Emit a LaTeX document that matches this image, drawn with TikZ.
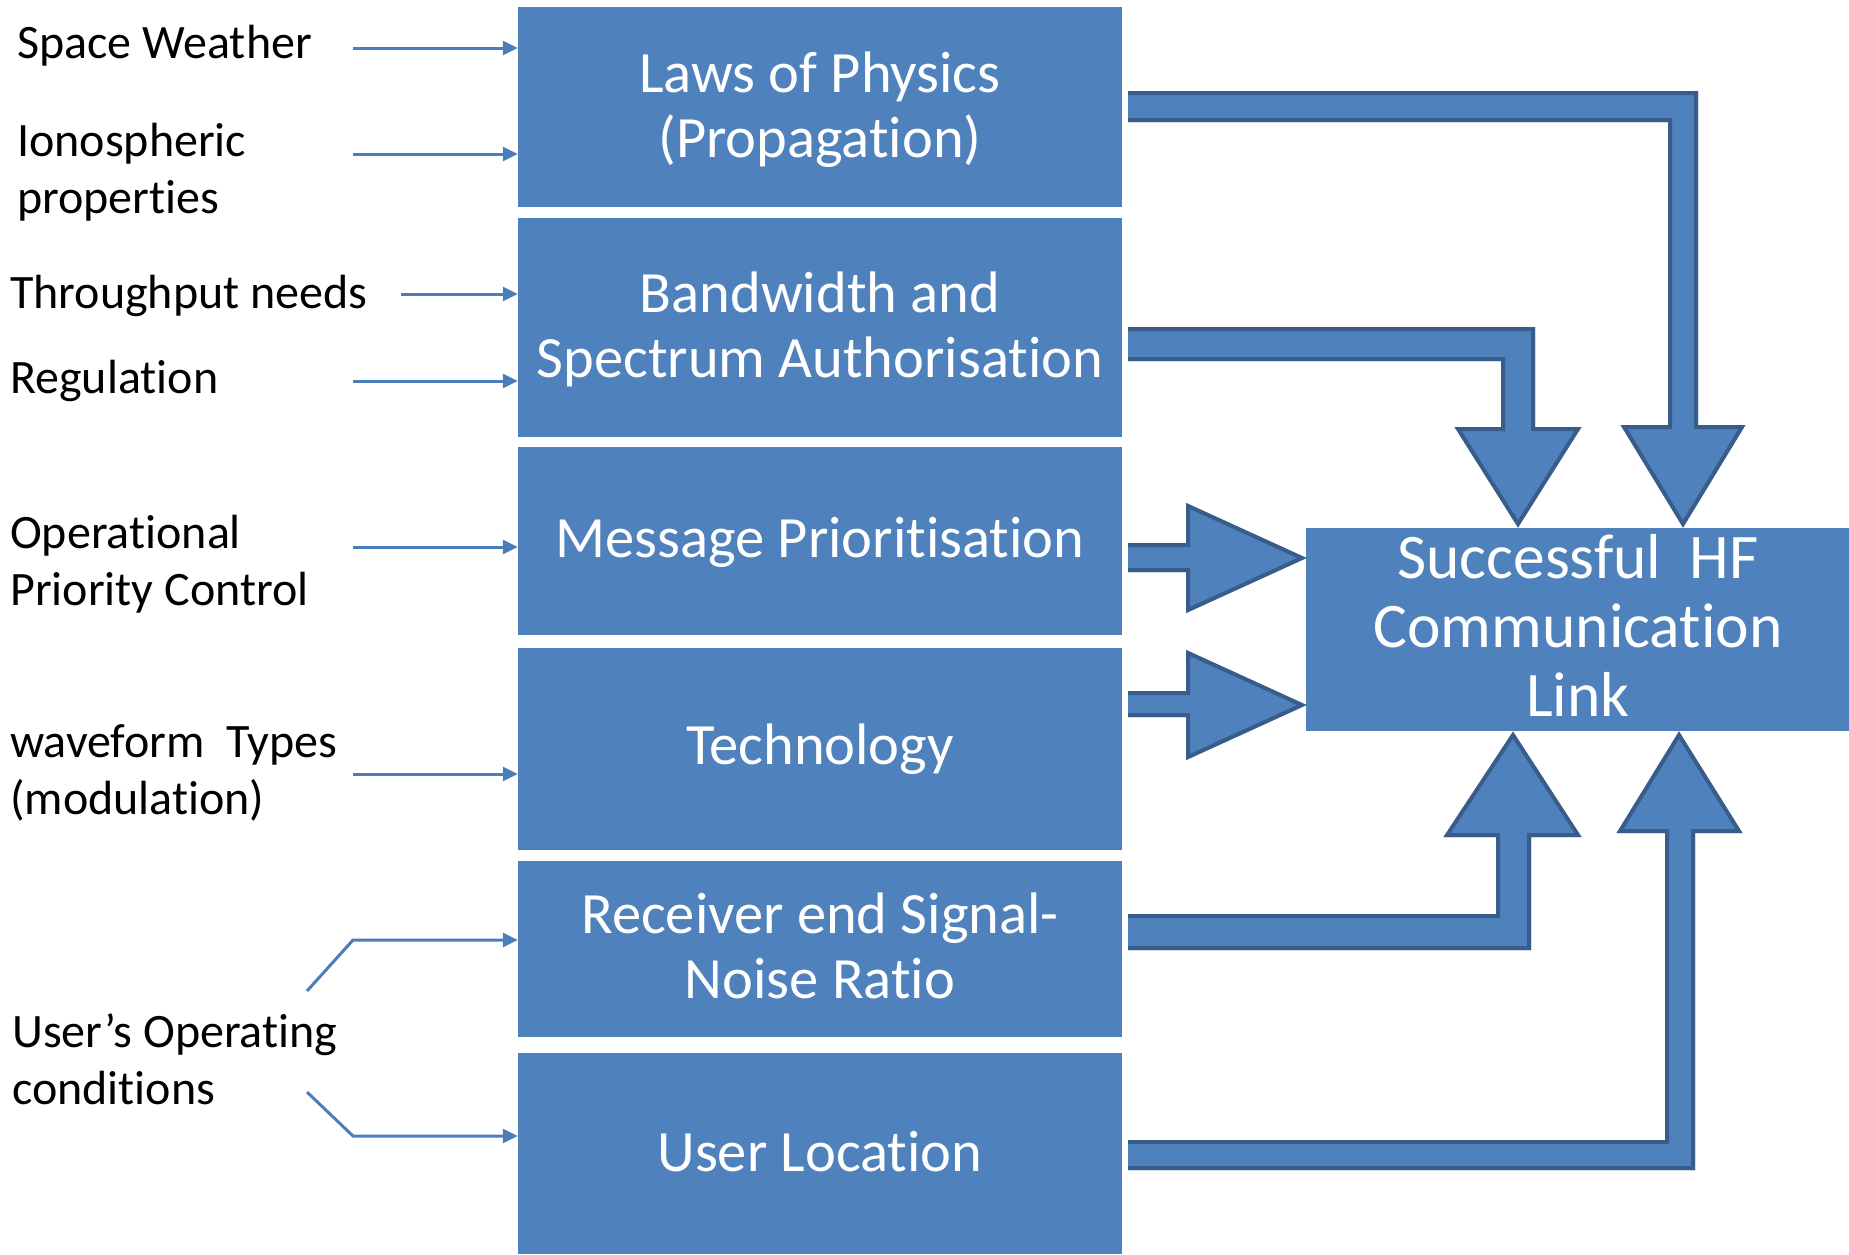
\documentclass[tikz,border=0pt]{standalone}
\usepackage{fontspec}
\setmainfont{Carlito}[Ligatures={NoCommon}]
\usetikzlibrary{arrows.meta}
\definecolor{boxblue}{RGB}{79,129,189}
\definecolor{arrowedge}{RGB}{56,93,138}
\definecolor{linkblue}{RGB}{74,126,187}
\newcommand{\mlc}[1]{\begin{tabular}[t]{@{}c@{}}#1\end{tabular}}
\newcommand{\mll}[1]{\begin{tabular}[t]{@{}l@{}}#1\end{tabular}}
\begin{document}
\begin{tikzpicture}[x=1pt,y=-1pt,
  blockbox/.style={fill=boxblue, draw=none, inner sep=0pt, minimum width=604pt},
  blocktext/.style={anchor=base, text=white, inner sep=0pt, font=\fontsize{58.5}{65}\selectfont},
  sidelabel/.style={anchor=base west, inner sep=0pt, font=\fontsize{48}{57}\selectfont},
  feed/.style={draw=linkblue, line width=3pt, -{Triangle[length=15pt,width=14pt]}},
  fatfill/.style={fill=boxblue},
  fatedge/.style={draw=arrowedge, line width=4pt, miter limit=10}]
\useasboundingbox (0,0) rectangle (1849,1254);

% main boxes
\node[blockbox, minimum height=200pt] (laws) at (820,107) {};
\node[blockbox, minimum height=219pt] (bw) at (820,327.5) {};
\node[blockbox, minimum height=188pt] (msg) at (820,541) {};
\node[blockbox, minimum height=202pt] (tech) at (820,749) {};
\node[blockbox, minimum height=176pt] (rx) at (820,949) {};
\node[blockbox, minimum height=201pt] (loc) at (820,1153.5) {};
\node[fill=boxblue, inner sep=0pt, minimum width=543pt, minimum height=203pt] (hf) at (1577.5,629.5) {};

% box texts
\node[blocktext] (lawsT) at (820,92) {\mlc{Laws of Physics\\(Propagation)}};
\node[blocktext] (bwT) at (820,312) {\mlc{Bandwidth and\\Spectrum Authorisation}};
\node[blocktext] (msgT) at (820,557) {Message Prioritisation};
\node[blocktext] (techT) at (820,764) {Technology};
\node[blocktext] (rxT) at (820,933) {\mlc{Receiver end Signal-\\Noise Ratio}};
\node[blocktext] (locT) at (820,1171) {User Location};
\node[anchor=base, text=white, inner sep=0pt, font=\fontsize{63.5}{69}\selectfont] (hfT) at (1578,578)
  {\mlc{Successful~ HF\\Communication\\Link}};

% side labels
\node[sidelabel] (sw) at (17,58) {Space Weather};
\node[sidelabel] (iono) at (17,156) {\mll{Ionospheric\\properties}};
\node[sidelabel] (tp) at (10,308) {Throughput needs};
\node[sidelabel] (reg) at (10,393) {Regulation};
\node[sidelabel] (op) at (10,548) {\mll{Operational\\Priority Control}};
\node[sidelabel] (wf) at (10,757) {\mll{waveform~ Types\\(modulation)}};
\node[sidelabel] (uoc) at (12,1047) {\mll{User’s Operating\\conditions}};

% feed connectors
\coordinate (swS) at (353,48);
\coordinate (ionoS) at (353,154);
\coordinate (tpS) at (401,294);
\coordinate (regS) at (353,381);
\coordinate (opS) at (353,547);
\coordinate (wfS) at (353,774);
\coordinate (uocA) at (307,991);
\coordinate (uocAk) at (353,940);
\coordinate (uocB) at (307,1092);
\coordinate (uocBk) at (353,1136);
\draw[feed] (swS) -- (swS -| laws.west);
\draw[feed] (ionoS) -- (ionoS -| laws.west);
\draw[feed] (tpS) -- (tpS -| bw.west);
\draw[feed] (regS) -- (regS -| bw.west);
\draw[feed] (opS) -- (opS -| msg.west);
\draw[feed] (wfS) -- (wfS -| tech.west);
\draw[feed] (uocA) -- (uocAk) -- (uocAk -| rx.west);
\draw[feed] (uocB) -- (uocBk) -- (uocBk -| loc.west);

% block arrows
% Laws -> HF
\fill[fatfill] (1128,91) -- (1698,91) -- (1698,425) -- (1745,425) -- (1683,527) -- (1621,425) -- (1668,425) -- (1668,122) -- (1128,122) -- cycle;
\draw[fatedge] (1128,93) -- (1696,93) -- (1696,427) -- (1742,427) -- (1683,524) -- (1624,427) -- (1670,427) -- (1670,120) -- (1128,120);
% Bandwidth -> HF
\fill[fatfill] (1128,327) -- (1535,327) -- (1535,427) -- (1581,427) -- (1518,527) -- (1455,427) -- (1501,427) -- (1501,361) -- (1128,361) -- cycle;
\draw[fatedge] (1128,329) -- (1533,329) -- (1533,429) -- (1578,429) -- (1518,524) -- (1458,429) -- (1503,429) -- (1503,359) -- (1128,359);
% Message -> HF
\fill[fatfill] (1128,543) -- (1186,543) -- (1186,503) -- (1306,558) -- (1186,613) -- (1186,572) -- (1128,572) -- cycle;
\draw[fatedge] (1128,545) -- (1188,545) -- (1188,506) -- (1302,558) -- (1188,610) -- (1188,570) -- (1128,570);
% Technology -> HF
\fill[fatfill] (1128,691) -- (1186,691) -- (1186,650) -- (1306,705) -- (1186,760) -- (1186,717) -- (1128,717) -- cycle;
\draw[fatedge] (1128,693) -- (1188,693) -- (1188,653) -- (1302,705) -- (1188,757) -- (1188,715) -- (1128,715);
% Receiver -> HF
\fill[fatfill] (1128,950) -- (1531,950) -- (1531,837) -- (1581,837) -- (1513,732) -- (1444,837) -- (1496,837) -- (1496,914) -- (1128,914) -- cycle;
\draw[fatedge] (1128,948) -- (1529,948) -- (1529,835) -- (1578,835) -- (1513,735) -- (1447,835) -- (1498,835) -- (1498,916) -- (1128,916);
% Location -> HF
\fill[fatfill] (1128,1170) -- (1695,1170) -- (1695,833) -- (1742,833) -- (1679,732) -- (1617,833) -- (1665,833) -- (1665,1140) -- (1128,1140) -- cycle;
\draw[fatedge] (1128,1168) -- (1693,1168) -- (1693,831) -- (1739,831) -- (1679,735) -- (1620,831) -- (1667,831) -- (1667,1142) -- (1128,1142);
\end{tikzpicture}
\end{document}
